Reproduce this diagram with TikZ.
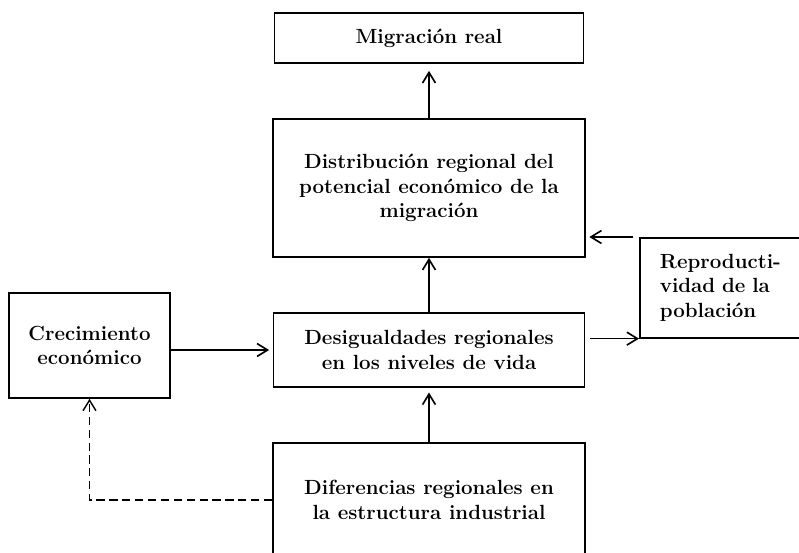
\documentclass[tikz,border=0pt]{standalone}
\usetikzlibrary{arrows.meta}
\tikzset{
  caja/.style={draw, line width=1.4pt, inner sep=0pt, align=center,
    font=\fontsize{17.5}{21}\selectfont\bfseries},
}
\begin{document}
\begin{tikzpicture}[x=0.03cm, y=-0.03cm, line width=1.4pt, >={Straight Barb[length=9pt,width=11pt]}]
  \useasboundingbox (0,0) rectangle (799,553);
  \clip (0,0) rectangle (799,553);
  \node [caja, minimum width=9.27cm, minimum height=1.5cm] (mig) at (429,38) {Migraci\'on real};
  \node [caja, minimum width=9.36cm, minimum height=4.14cm] (dist) at (429,188)
    {Distribuci\'on regional del\\potencial econ\'omico de la\\migraci\'on};
  \node [caja, minimum width=9.33cm, minimum height=2.22cm] (des) at (429,350)
    {Desigualdades regionales\\en los niveles de vida};
  \node [caja, minimum width=9.36cm, minimum height=3.42cm] (dif) at (429,500)
    {Diferencias regionales en\\la estructura industrial};
  \node [caja, minimum width=4.83cm, minimum height=3.15cm] (crec) at (89.5,345.5)
    {Crecimiento\\econ\'omico};
  \node [caja, anchor=north west, align=left, text width=4.2cm, inner xsep=0.6cm,
    minimum height=3cm] (rep) at (639,237) {Reproducti-\\vidad de la\\poblaci\'on};
  \path[->] (dist) edge[shorten >=6pt] (mig)
            (des) edge (dist)
            (dif) edge[shorten >=4pt] (des);
  \draw[->, shorten >=3pt] (crec.east |- des.west) -- (des.west);
  \draw[->, shorten <=4pt] (des.east |- rep.south west) -- (rep.south west);
  \draw[->, shorten <=5pt, shorten >=3pt] (rep.north west) -- (dist.east |- rep.north west);
  \draw[->, dash pattern=on 7pt off 4pt, line width=1.2pt] (dif.west) -| (crec.south);
\end{tikzpicture}
\end{document}
